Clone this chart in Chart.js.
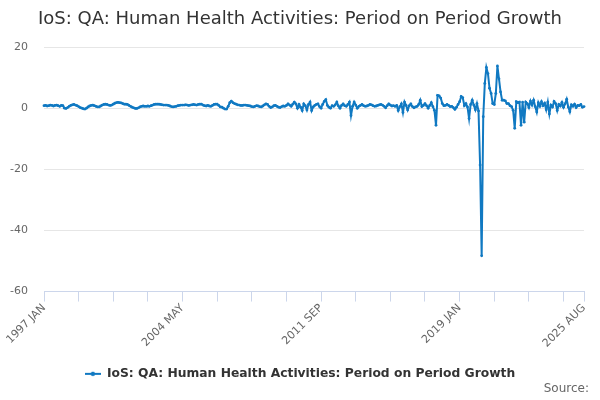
<!DOCTYPE html>
<html lang="en">
<head>
<meta charset="UTF-8">
<title>IoS: QA: Human Health Activities: Period on Period Growth</title>
<script src="https://cdn.jsdelivr.net/npm/chart.js"></script>
<style>
  body { margin: 0; background: #fff; }
  #wrap { position: relative; width: 600px; height: 400px; font-family: "DejaVu Sans", sans-serif; }
  #title { position: absolute; left: 38px; top: 7px; font-size: 18px; color: #333; white-space: nowrap; }
  #source { position: absolute; right: 11px; top: 381px; font-size: 12px; color: #666; }
</style>
</head>
<body>
<div id="wrap">
  <canvas id="chart" width="600" height="400"></canvas>
  <div id="title">IoS: QA: Human Health Activities: Period on Period Growth</div>
  <div id="source">Source:</div>
</div>
<script>
// monthly series, Jan 1997 .. Aug 2025, one row per year
const growth = [
  0.8, 0.9, 0.7, 0.8, 1.0, 0.9, 0.7, 0.9, 1.0, 0.8, 0.6, 0.9,      // 1997
  0.8, 0.0, -0.1, 0.2, 0.6, 0.9, 1.1, 1.2, 1.0, 0.8, 0.5, 0.2,     // 1998
  0.0, -0.2, -0.3, 0.0, 0.4, 0.7, 0.9, 1.0, 0.8, 0.6, 0.4, 0.4,    // 1999
  0.7, 1.0, 1.2, 1.3, 1.2, 1.0, 0.9, 1.0, 1.3, 1.6, 1.8, 1.9,      // 2000
  1.8, 1.7, 1.5, 1.3, 1.3, 1.2, 0.9, 0.6, 0.3, 0.1, -0.1, -0.1,    // 2001
  0.1, 0.4, 0.6, 0.7, 0.6, 0.6, 0.7, 0.6, 0.8, 1.0, 1.2, 1.3,      // 2002
  1.3, 1.3, 1.2, 1.1, 1.0, 1.0, 1.0, 0.9, 0.7, 0.5, 0.4, 0.5,      // 2003
  0.6, 0.8, 0.9, 1.0, 1.0, 1.0, 1.1, 1.0, 0.9, 1.0, 1.1, 1.2,      // 2004
  1.1, 1.0, 1.2, 1.3, 1.3, 1.0, 0.8, 0.7, 0.9, 0.7, 0.6, 0.9,      // 2005
  1.2, 1.3, 1.3, 0.9, 0.4, 0.3, 0.0, -0.3, -0.3, 0.6, 1.8, 2.3,    // 2006
  1.8, 1.5, 1.3, 1.1, 1.0, 0.9, 0.9, 1.0, 1.0, 0.9, 0.8, 0.7,      // 2007
  0.5, 0.4, 0.6, 0.8, 0.7, 0.5, 0.4, 0.7, 1.1, 1.4, 1.2, 0.6,      // 2008
  0.2, 0.4, 0.8, 0.9, 0.6, 0.3, 0.2, 0.5, 0.7, 0.6, 0.9, 1.4,      // 2009
  1.0, 0.6, 1.3, 2.0, 1.4, 0.0, 1.2, 0.3, -0.8, 1.4, 0.8, -0.6,    // 2010
  1.2, 2.0, -0.8, 0.4, 0.9, 1.2, 1.4, 0.5, 0.0, 1.2, 2.2, 2.8,     // 2011
  0.9, 0.3, 0.0, 0.8, 0.6, 1.1, 2.0, 0.7, 0.0, 0.9, 1.4, 0.8,      // 2012
  0.6, 1.2, 2.0, -2.4, 0.6, 2.0, 1.0, 0.0, 0.6, 0.9, 1.2, 0.8,     // 2013
  0.6, 0.7, 0.9, 1.2, 1.1, 0.8, 0.6, 0.7, 0.9, 1.1, 1.2, 1.0,      // 2014
  0.6, 0.1, 0.8, 1.4, 1.0, 0.7, 0.8, 0.6, 0.9, -0.8, 0.5, 1.4,     // 2015
  -1.4, 2.0, 0.9, -0.6, 0.8, 1.4, 0.5, 0.1, 0.4, 0.6, 1.2, 2.6,    // 2016
  0.5, 0.9, 1.5, 0.8, 0.0, 0.9, 1.8, 0.5, -0.7, -5.6, 4.2, 4.0,    // 2017
  3.3, 1.5, 0.8, 0.9, 1.2, 0.9, 0.5, 0.6, 0.2, -0.4, 0.3, 1.2,     // 2018
  2.1, 3.8, 3.4, 0.8, 1.5, 0.4, -3.4, 1.2, 2.6, 1.0, -0.5, 1.5,    // 2019
  -0.9, -18.6, -48.3, -2.8, 8.1, 13.3, 11.3, 6.5, 4.8, 1.5, 1.2, 4.8, // 2020
  13.8, 9.6, 5.3, 2.6, 2.6, 2.4, 1.5, 1.5, 0.8, 0.5, -0.7, -6.6,   // 2021
  2.1, 1.8, 2.0, -5.6, 2.0, -4.6, 2.0, 1.5, 0.2, 2.3, 1.0, 2.6,    // 2022
  0.5, -1.3, 1.8, 0.6, 2.1, 0.8, 1.6, -0.5, 2.0, -1.9, 1.0, 0.4,   // 2023
  2.2, 1.5, -0.8, 1.2, 0.7, 1.9, 0.3, 1.4, 2.9, 0.4, -1.2, 1.1,    // 2024
  0.6, 1.3, 0.2, 0.9, 0.8, 1.2, 0.3, 0.5                           // 2025
];
const startYear = 1997;
const monthNames = ['JAN', 'FEB', 'MAR', 'APR', 'MAY', 'JUN', 'JUL', 'AUG', 'SEP', 'OCT', 'NOV', 'DEC'];
const shownLabels = ['1997 JAN', '2004 MAY', '2011 SEP', '2019 JAN', '2025 AUG'];
const yTicks = [-60, -40, -20, 0, 20];
const seriesName = 'IoS: QA: Human Health Activities: Period on Period Growth';

const months = growth.map((v, i) => (startYear + Math.floor(i / 12)) + ' ' + monthNames[i % 12]);

const lineBlue = '#1079c2';
const font = "'DejaVu Sans', sans-serif";

// little line-with-dot marker for the legend
const legendIcon = document.createElement('canvas');
legendIcon.width = 16;
legendIcon.height = 8;
(function () {
  const c = legendIcon.getContext('2d');
  c.strokeStyle = lineBlue;
  c.lineWidth = 2;
  c.beginPath();
  c.moveTo(0, 4);
  c.lineTo(16, 4);
  c.stroke();
  c.fillStyle = lineBlue;
  c.beginPath();
  c.arc(8, 4, 2.2, 0, Math.PI * 2);
  c.fill();
})();

function hasTickMark(i) {
  return i % 22 === 0 || i === months.length - 1;
}

new Chart(document.getElementById('chart'), {
  type: 'line',
  data: {
    labels: months,
    datasets: [{
      label: seriesName,
      data: growth,
      borderColor: lineBlue,
      backgroundColor: lineBlue,
      borderWidth: 2,
      pointRadius: 1.4,
      pointBorderWidth: 0,
      tension: 0,
      fill: false
    }]
  },
  options: {
    responsive: false,
    animation: false,
    layout: { padding: { top: 47, right: 0, left: 0, bottom: 10 } },
    plugins: {
      title: { display: false },
      tooltip: { enabled: false },
      legend: {
        position: 'bottom',
        labels: {
          color: '#333',
          font: { family: font, size: 12.3, weight: 'bold' },
          usePointStyle: true,
          pointStyleWidth: 16,
          padding: 17.5,
          generateLabels: () => [{
            text: seriesName,
            pointStyle: legendIcon,
            fillStyle: lineBlue,
            strokeStyle: lineBlue,
            lineWidth: 0,
            fontColor: '#333',
            datasetIndex: 0
          }]
        }
      }
    },
    scales: {
      x: {
        grid: {
          drawOnChartArea: false,
          drawTicks: true,
          tickLength: 10,
          color: ctx => hasTickMark(ctx.index) ? '#ccd6eb' : 'rgba(0,0,0,0)'
        },
        border: { display: true, color: '#ccd6eb' },
        afterFit: axis => { axis.paddingLeft = 0; axis.paddingRight = 16; },
        ticks: {
          autoSkip: false,
          minRotation: 45,
          maxRotation: 45,
          color: '#666',
          font: { family: font, size: 11 },
          padding: 0,
          callback: (value, index) => shownLabels.includes(months[index]) ? months[index] : ''
        }
      },
      y: {
        min: yTicks[0],
        max: yTicks[yTicks.length - 1],
        afterBuildTicks: axis => { axis.ticks = yTicks.map(v => ({ value: v })); },
        afterFit: axis => { axis.width = 44; },
        grid: { color: '#e6e6e6', drawTicks: false },
        border: { display: false },
        ticks: {
          color: '#666',
          font: { family: font, size: 11 },
          padding: 16
        }
      }
    }
  }
});
</script>
</body>
</html>
